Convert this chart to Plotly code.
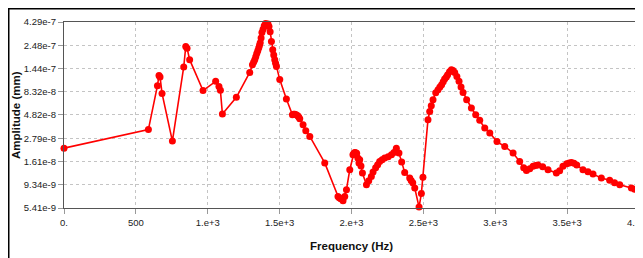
import plotly.graph_objects as go
import math

freq = [0, 587, 650, 661, 668, 682, 754, 833, 847, 856, 874, 967, 1055, 1078, 1088, 1102,
        1199, 1292, 1311, 1319, 1327, 1334, 1341, 1348, 1355, 1360, 1365, 1371, 1377, 1385,
        1393, 1402, 1412, 1419, 1426, 1434, 1443, 1452, 1459, 1466, 1472, 1478, 1501, 1547,
        1589, 1597, 1605, 1615, 1626, 1633, 1640, 1663, 1682, 1710, 1814, 1906, 1915, 1925,
        1941, 1953, 1965, 1988, 2010, 2016, 2022, 2029, 2036, 2044, 2052, 2057, 2066, 2076,
        2104, 2120, 2138, 2150, 2168, 2182, 2196, 2213, 2231, 2255, 2278, 2295, 2312, 2330,
        2349, 2370, 2405, 2415, 2426, 2440, 2470, 2486, 2497, 2532, 2544, 2555, 2567, 2586,
        2602, 2615, 2627, 2638, 2648, 2660, 2669, 2682, 2695, 2706, 2718, 2733, 2748, 2762,
        2776, 2801, 2834, 2864, 2892, 2927, 2962, 3012, 3066, 3124, 3170, 3198, 3217, 3240,
        3263, 3280, 3297, 3330, 3367, 3425, 3448, 3471, 3497, 3514, 3530, 3548, 3567, 3610,
        3645, 3680, 3738, 3796, 3830, 3866, 3947, 3970, 3993]
amp = [2.21e-8, 3.42e-8, 9.59e-8, 1.22e-7, 1.18e-7, 8.0e-8, 2.61e-8, 1.49e-7, 2.41e-7, 2.32e-7,
       1.77e-7, 8.55e-8, 1.064e-7, 9.43e-8, 8.6e-8, 4.93e-8, 7.3e-8, 1.31e-7, 1.57e-7, 1.67e-7,
       1.77e-7, 1.9e-7, 2.04e-7, 2.18e-7, 2.34e-7, 2.48e-7, 2.63e-7, 2.95e-7, 3.35e-7, 3.62e-7,
       3.93e-7, 4.15e-7, 4.36e-7, 4.1e-7, 3.87e-7, 3.41e-7, 2.72e-7, 2.24e-7, 1.98e-7, 1.77e-7,
       1.63e-7, 1.51e-7, 1.108e-7, 7.03e-8, 4.85e-8, 4.9e-8, 4.9e-8, 4.85e-8, 4.74e-8, 4.6e-8,
       4.42e-8, 3.83e-8, 3.32e-8, 2.91e-8, 1.56e-8, 7.11e-9, 6.9e-9, 6.73e-9, 6.42e-9, 7.07e-9,
       8.33e-9, 1.33e-8, 1.89e-8, 1.95e-8, 1.99e-8, 1.98e-8, 1.96e-8, 1.75e-8, 1.56e-8, 1.68e-8,
       1.45e-8, 1.23e-8, 9.34e-9, 1.025e-8, 1.137e-8, 1.26e-8, 1.39e-8, 1.5e-8, 1.61e-8, 1.68e-8,
       1.75e-8, 1.8e-8, 1.89e-8, 2.0e-8, 2.21e-8, 1.97e-8, 1.6e-8, 1.25e-8, 1.095e-8, 1.03e-8,
       9.81e-9, 8.66e-9, 5.53e-9, 7.59e-9, 1.118e-8, 4.32e-8, 5.23e-8, 6.0e-8, 6.91e-8, 8.14e-8,
       8.74e-8, 9.3e-8, 9.8e-8, 1.05e-7, 1.12e-7, 1.18e-7, 1.24e-7, 1.33e-7, 1.40e-7, 1.37e-7,
       1.31e-7, 1.19e-7, 1.064e-7, 9.3e-8, 8.2e-8, 6.91e-8, 5.68e-8, 4.85e-8, 4.25e-8, 3.55e-8,
       3.16e-8, 2.58e-8, 2.30e-8, 1.97e-8, 1.61e-8, 1.39e-8, 1.31e-8, 1.36e-8, 1.44e-8, 1.47e-8,
       1.49e-8, 1.43e-8, 1.33e-8, 1.23e-8, 1.30e-8, 1.44e-8, 1.53e-8, 1.56e-8, 1.58e-8, 1.55e-8,
       1.49e-8, 1.33e-8, 1.27e-8, 1.2e-8, 1.095e-8, 1.04e-8, 9.8e-9, 9.34e-9, 8.66e-9, 8.4e-9,
       8.2e-9]

x_tickvals = [0, 500, 1000, 1500, 2000, 2500, 3000, 3500, 4000]
x_ticktext = ["0.", "500", "1.e+3", "1.5e+3", "2.e+3", "2.5e+3", "3.e+3", "3.5e+3", "4.e+3"]
y_tickvals = [5.41e-9, 9.34e-9, 1.61e-8, 2.79e-8, 4.82e-8, 8.32e-8, 1.44e-7, 2.48e-7, 4.29e-7]
y_ticktext = ["5.41e-9", "9.34e-9", "1.61e-8", "2.79e-8", "4.82e-8", "8.32e-8", "1.44e-7", "2.48e-7", "4.29e-7"]

# figure is placed by the page at an 8px body offset: size and margins account for that
W, H = 635, 250
L, R, T, B = 56, 4, 14, 50
PW, PH = W - L - R, H - T - B


def px_x(p):
    return (p - L) / PW


def px_y(p):
    return (H - B - p) / PH


fig = go.Figure()
fig.add_trace(go.Scatter(
    x=freq, y=amp, mode="lines+markers",
    line=dict(color="#ff0000", width=1.6),
    marker=dict(color="#ff0000", size=7),
    cliponaxis=False, showlegend=False,
))

font_family = "Liberation Sans, Arial, sans-serif"
grid = dict(showgrid=True, gridcolor="#c4c4c4", griddash="3px,3px", gridwidth=1,
            showline=True, linecolor="#555555", linewidth=1.3, mirror=True,
            ticks="outside", ticklen=5, tickcolor="#999999", zeroline=False,
            automargin=False, ticklabeloverflow="allow",
            tickfont=dict(family=font_family, size=9.5, color="#222222"))

fig.update_xaxes(range=[0, 4000], tickvals=x_tickvals, ticktext=x_ticktext, **grid)
fig.update_yaxes(type="log", range=[math.log10(5.41e-9), math.log10(4.29e-7)],
                 tickvals=y_tickvals, ticktext=y_ticktext, **grid)

title_font = dict(family=font_family, size=11.5, color="#111111")
fig.add_annotation(text="<b>Frequency (Hz)</b>", xref="paper", yref="paper",
                   x=0.5, y=px_y(238), xanchor="center", yanchor="middle",
                   showarrow=False, font=title_font)
fig.add_annotation(text="<b>Amplitude (mm)</b>", xref="paper", yref="paper",
                   x=px_x(8), y=0.5, xanchor="center", yanchor="middle", textangle=-90,
                   showarrow=False, font=title_font)

# black frame on top and left of the picture
fig.add_shape(type="line", xref="paper", yref="paper",
              x0=px_x(0), x1=px_x(W), y0=px_y(0), y1=px_y(0),
              line=dict(color="#000000", width=3))
fig.add_shape(type="line", xref="paper", yref="paper",
              x0=px_x(0), x1=px_x(0), y0=px_y(0), y1=px_y(H),
              line=dict(color="#000000", width=3))

fig.update_layout(width=W, height=H, margin=dict(l=L, r=R, t=T, b=B),
                  paper_bgcolor="white", plot_bgcolor="white",
                  font=dict(family=font_family))
fig.write_html("out.html")
